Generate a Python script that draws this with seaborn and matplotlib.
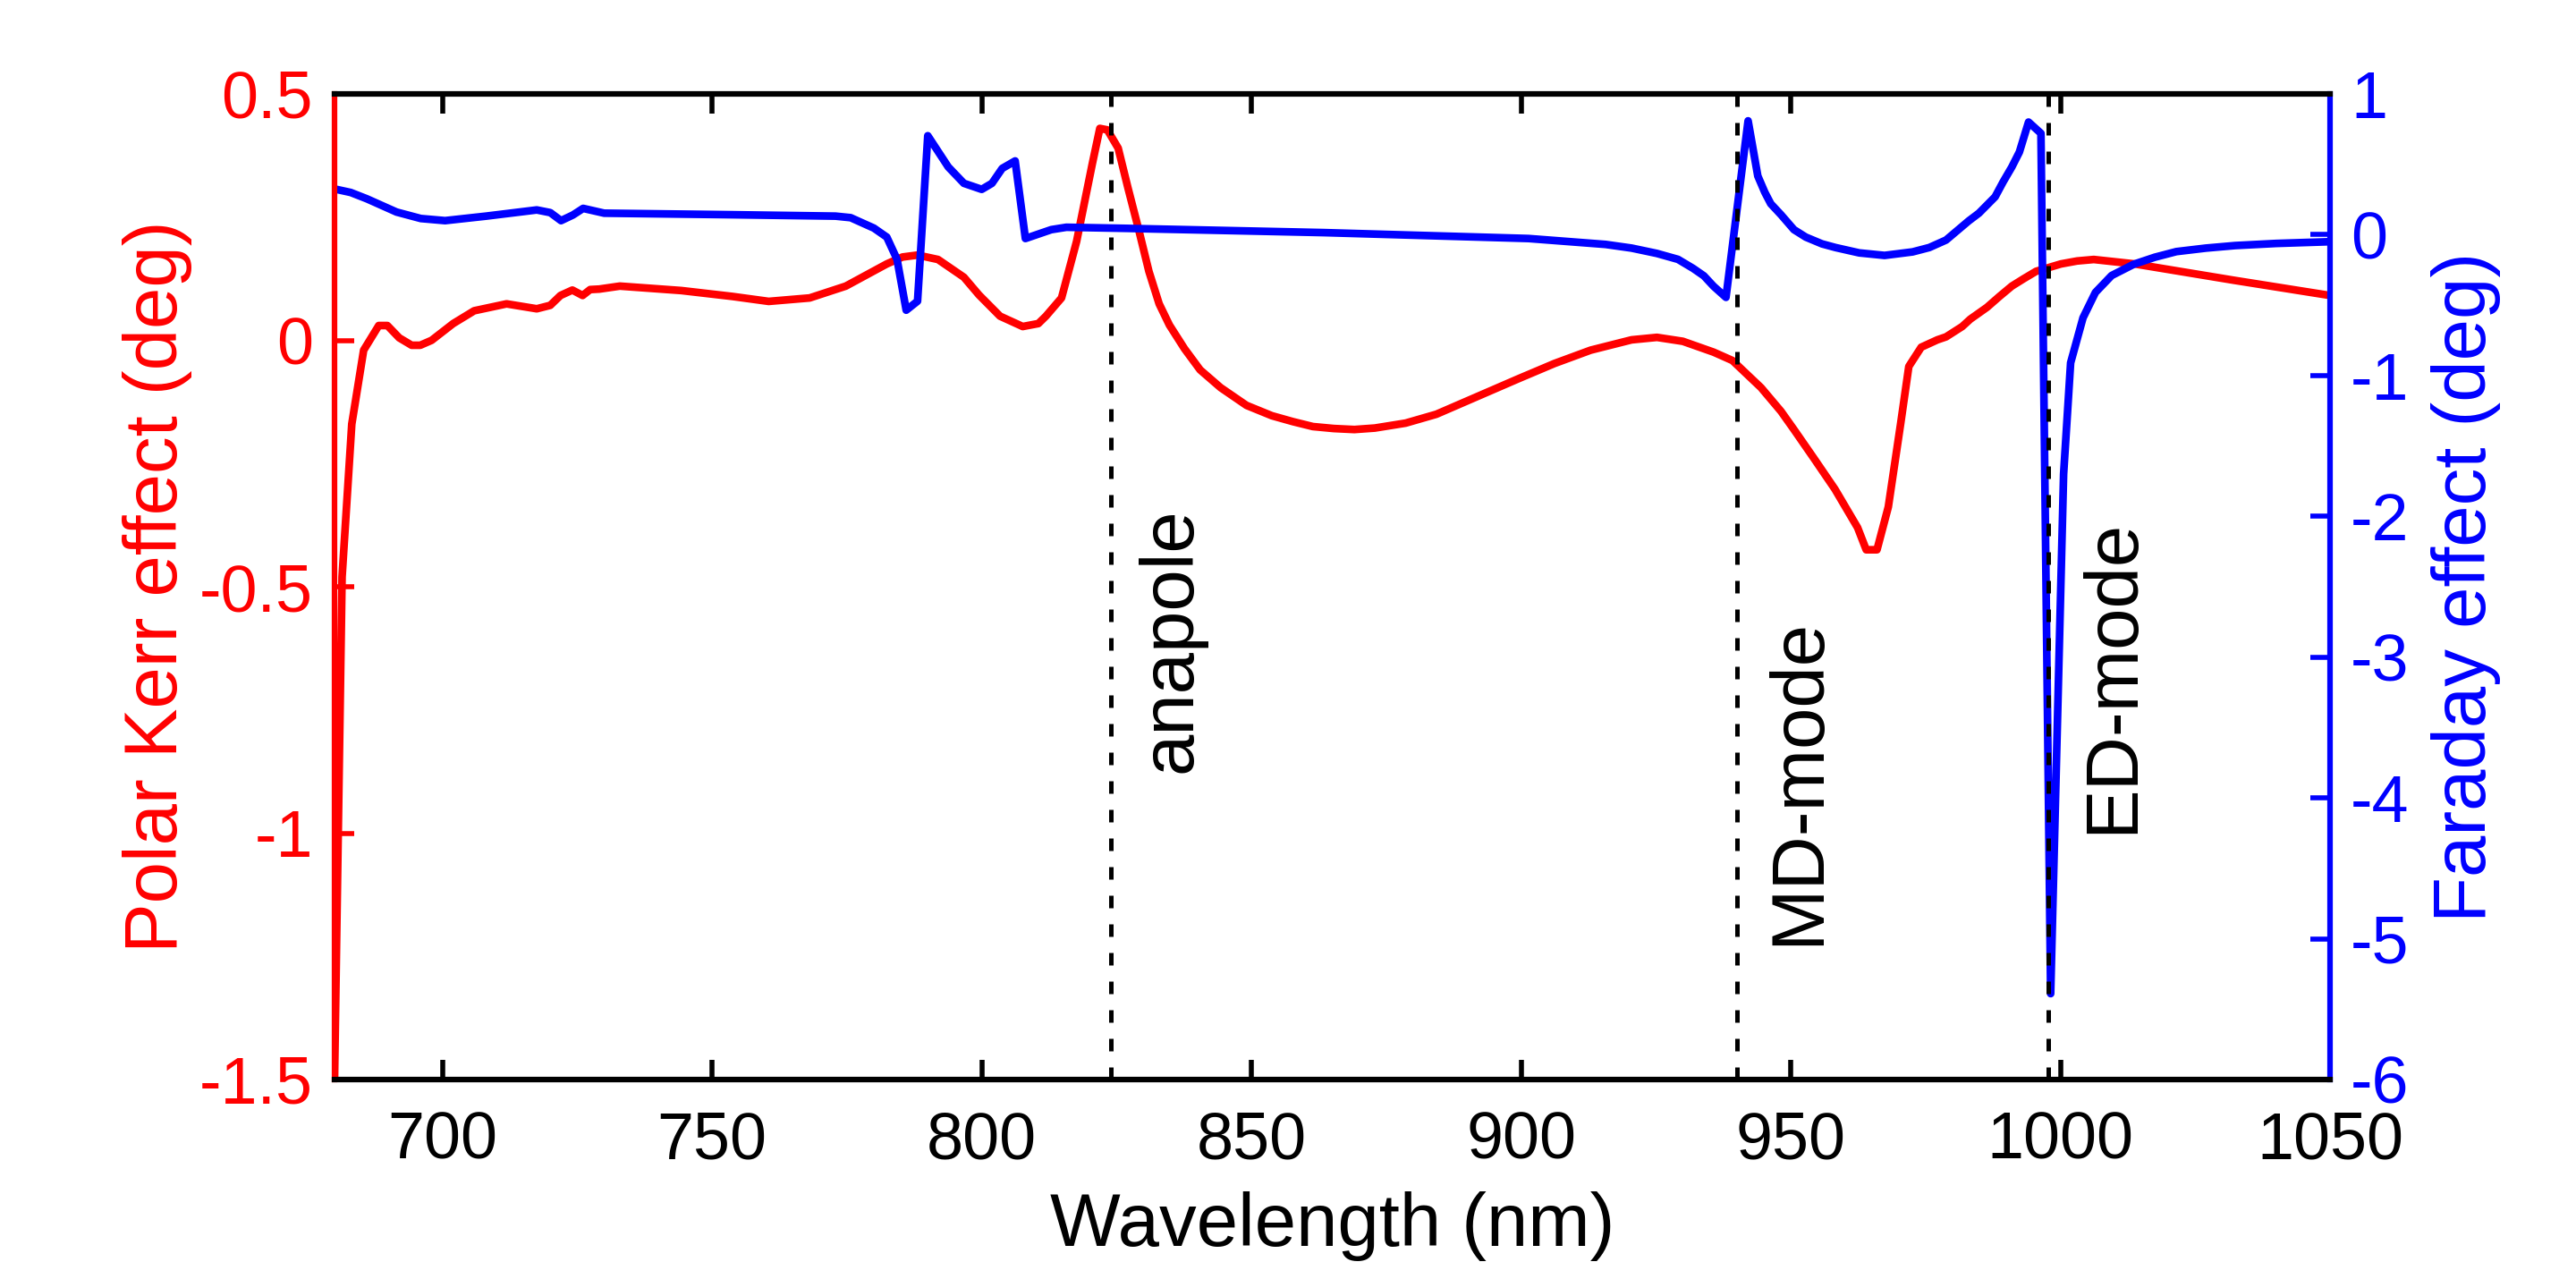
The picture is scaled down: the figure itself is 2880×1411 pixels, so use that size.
import numpy as np
import pandas as pd
import matplotlib
matplotlib.use("Agg")
import matplotlib.pyplot as plt
import seaborn as sns

# ---------------- data ----------------
kerr_wavelength = [680.0, 681.4, 683.2, 685.4, 688.2, 689.8, 692.0, 694.3, 695.9, 698.0,
                   702.0, 705.9, 711.9, 717.5, 720.0, 721.9, 724.1, 726.0, 727.4, 729.1,
                   732.9, 744.3, 753.8, 760.5, 768.1, 774.8, 782.4, 785.3, 788.1, 791.9,
                   796.7, 799.5, 803.4, 807.6, 810.5, 811.9, 814.8, 817.6, 820.5, 821.9,
                   823.3, 825.3, 827.1, 829.1, 831.0, 832.9, 834.8, 837.6, 840.5, 844.3,
                   849.1, 853.8, 857.7, 861.4, 865.3, 869.1, 872.9, 878.6, 884.3, 891.9,
                   899.5, 906.2, 912.9, 920.5, 925.2, 930.0, 935.7, 939.2, 944.5, 948.2,
                   950.6, 954.4, 958.2, 962.4, 964.0, 966.0, 968.1, 970.4, 971.9, 974.2,
                   977.2, 978.8, 981.8, 983.3, 986.4, 988.7, 991.0, 993.2, 995.5, 1000.1,
                   1003.1, 1006.2, 1013.8, 1032.1, 1050.0]
kerr = [-1.50, -0.48, -0.17, -0.02, 0.030, 0.030, 0.005, -0.010, -0.010, 0.000,
        0.034, 0.060, 0.074, 0.064, 0.071, 0.091, 0.102, 0.091, 0.103, 0.104,
        0.110, 0.101, 0.089, 0.079, 0.086, 0.110, 0.155, 0.169, 0.173, 0.164,
        0.128, 0.092, 0.049, 0.028, 0.034, 0.049, 0.086, 0.201, 0.358, 0.430,
        0.427, 0.390, 0.310, 0.225, 0.140, 0.074, 0.031, -0.017, -0.060, -0.096,
        -0.132, -0.153, -0.165, -0.175, -0.179, -0.181, -0.178, -0.168, -0.150, -0.114,
        -0.078, -0.047, -0.020, 0.001, 0.006, -0.002, -0.024, -0.041, -0.096, -0.144,
        -0.181, -0.241, -0.302, -0.380, -0.425, -0.425, -0.338, -0.168, -0.053, -0.014,
        0.001, 0.007, 0.028, 0.043, 0.067, 0.089, 0.110, 0.125, 0.140, 0.155,
        0.161, 0.164, 0.155, 0.122, 0.091]

faraday_wavelength = [680.0, 683.0, 686.0, 691.5, 696.0, 700.5, 708.1, 717.5, 720.0, 722.0,
                      724.2, 726.1, 730.0, 753.8, 772.9, 775.7, 780.0, 782.4, 784.3, 786.0,
                      788.1, 790.0, 793.8, 796.7, 800.0, 801.9, 803.8, 806.2, 808.1, 812.9,
                      815.7, 827.0, 863.4, 901.4, 915.7, 920.5, 925.2, 929.1, 931.9, 933.9,
                      935.7, 938.0, 942.1, 943.9, 945.2, 946.3, 948.2, 950.6, 952.8, 955.8,
                      958.3, 962.7, 967.4, 972.6, 975.7, 978.8, 983.0, 984.9, 987.9, 989.4,
                      991.0, 992.4, 994.1, 996.4, 998.2, 1000.6, 1001.9, 1004.2, 1006.5, 1009.5,
                      1013.6, 1017.5, 1021.5, 1027.0, 1032.4, 1040.0, 1049.7]
faraday = [0.325, 0.300, 0.255, 0.161, 0.115, 0.100, 0.132, 0.176, 0.157, 0.100,
           0.140, 0.187, 0.153, 0.142, 0.132, 0.121, 0.047, -0.017, -0.175, -0.536,
           -0.472, 0.703, 0.481, 0.365, 0.322, 0.365, 0.471, 0.524, -0.027, 0.036,
           0.053, 0.045, 0.015, -0.027, -0.069, -0.095, -0.133, -0.175, -0.239, -0.292,
           -0.366, -0.445, 0.809, 0.417, 0.301, 0.220, 0.142, 0.036, -0.017, -0.065,
           -0.091, -0.129, -0.147, -0.122, -0.091, -0.038, 0.098, 0.153, 0.269, 0.376,
           0.481, 0.587, 0.800, 0.720, -5.39, -1.70, -0.91, -0.59, -0.41, -0.29,
           -0.21, -0.16, -0.12, -0.095, -0.077, -0.062, -0.050]

mode_positions = [824.0, 940.1, 997.7]
mode_labels = ["anapole", "MD-mode", "ED-mode"]
mode_label_x = [835.1, 951.5, 1009.7]
mode_label_y = [-0.609, -0.896, -0.681]

x_ticks = [700, 750, 800, 850, 900, 950, 1000, 1050]
kerr_ticks = [-1.5, -1.0, -0.5, 0.0, 0.5]
kerr_tick_labels = ["-1.5", "-1", "-0.5", "0", "0.5"]
faraday_ticks = [-6, -5, -4, -3, -2, -1, 0, 1]
faraday_tick_labels = ["-6", "-5", "-4", "-3", "-2", "-1", "0", "1"]

# ---------------- style ----------------
sns.set_style("white")
plt.rcParams["font.family"] = ["Liberation Sans", "DejaVu Sans"]
plt.rcParams["axes.unicode_minus"] = False

RED = "#ff0000"
BLUE = "#0000ff"
TICK_FS = 26.5
LABEL_FS = 30
SPINE_W = 2.2
TICK_LEN = 7.9
LINE_W = 3.1

W, H = 2880, 1411
fig = plt.figure(figsize=(W / 200, H / 200), dpi=200)
ax = fig.add_axes([374 / W, 1 - 1207 / H, 2231 / W, 1102 / H])

df_k = pd.DataFrame({"wavelength": kerr_wavelength, "kerr": kerr})
df_f = pd.DataFrame({"wavelength": faraday_wavelength, "faraday": faraday})

sns.lineplot(data=df_k, x="wavelength", y="kerr", ax=ax, color=RED,
             linewidth=LINE_W, estimator=None, sort=False)
ax.set_xlim(680, 1050)
ax.set_ylim(-1.5, 0.5)

ax2 = ax.twinx()
sns.lineplot(data=df_f, x="wavelength", y="faraday", ax=ax2, color=BLUE,
             linewidth=LINE_W, estimator=None, sort=False)
ax2.set_ylim(-6, 1)
ax2.set_xlim(680, 1050)

for xp in mode_positions:
    ax2.axvline(xp, color="black", linewidth=1.8, dashes=(2.8, 3.6), zorder=5)

for xl, yl, lab in zip(mode_label_x, mode_label_y, mode_labels):
    ax.text(xl, yl, lab, rotation=90, ha="center", va="center",
            fontsize=LABEL_FS, color="black")

# ticks
ax.set_xticks(x_ticks)
ax.set_xticklabels([str(t) for t in x_ticks])
ax.set_yticks(kerr_ticks)
ax.set_yticklabels(kerr_tick_labels)
ax2.set_yticks(faraday_ticks)
ax2.set_yticklabels(faraday_tick_labels)

ax.tick_params(axis="x", direction="in", length=TICK_LEN, width=2.0,
               top=True, bottom=True, labelsize=TICK_FS, pad=12.5, colors="black")
ax.tick_params(axis="y", direction="in", length=TICK_LEN, width=2.0,
               left=True, right=False, labelsize=TICK_FS, pad=8.6, colors=RED)
ax2.tick_params(axis="y", direction="in", length=TICK_LEN, width=2.0,
                left=False, right=True, labelsize=TICK_FS, pad=8.3, colors=BLUE)

for a in (ax, ax2):
    for s in a.spines.values():
        s.set_linewidth(SPINE_W)
        s.set_visible(True)
    a.spines["top"].set_color("black")
    a.spines["bottom"].set_color("black")
    a.spines["left"].set_color(RED)
    a.spines["right"].set_color(BLUE)

ax.set_xlabel("Wavelength (nm)", fontsize=LABEL_FS, color="black")
ax.xaxis.set_label_coords(0.5, -0.1134)
ax.set_ylabel("Polar Kerr effect (deg)", fontsize=LABEL_FS, color=RED)
ax.yaxis.set_label_coords(-0.0713, 0.5)
ax2.set_ylabel("Faraday effect (deg)", fontsize=LABEL_FS, color=BLUE, rotation=90)
ax2.yaxis.set_label_coords(1.0506, 0.5)

fig.savefig("out.png", dpi=200, facecolor="white")
